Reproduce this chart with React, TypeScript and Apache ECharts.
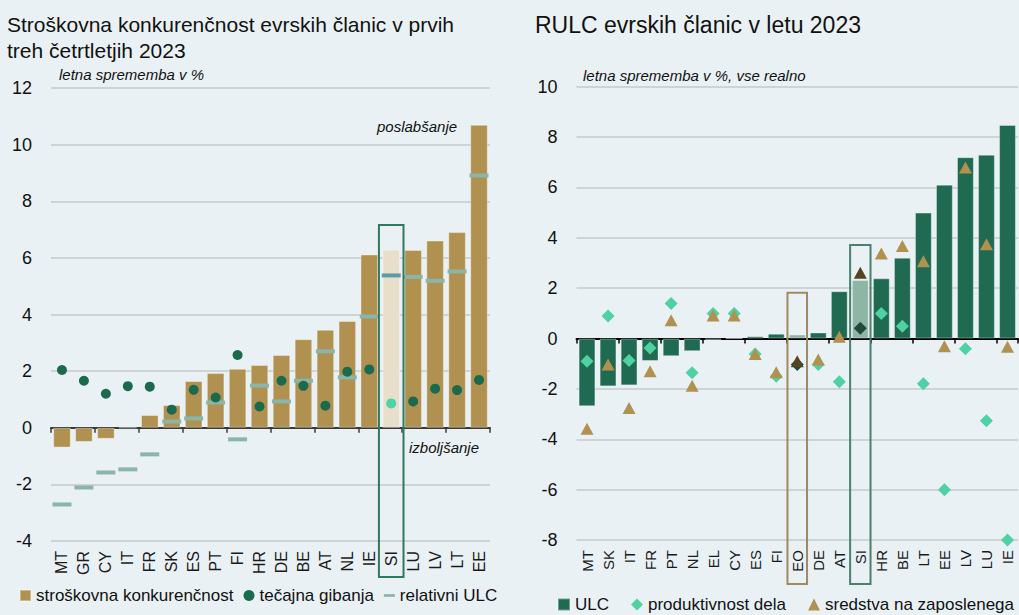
import React, { useEffect, useRef } from 'react';
import * as echarts from 'echarts';

const FONT = '"Liberation Sans", Arial, sans-serif';

// ---------- Left chart data ----------
const LEFT_CATEGORIES = ['MT', 'GR', 'CY', 'IT', 'FR', 'SK', 'ES', 'PT', 'FI', 'HR', 'DE', 'BE', 'AT', 'NL', 'IE', 'SI', 'LU', 'LV', 'LT', 'EE'];
const COST_COMPETITIVENESS = [-0.70, -0.50, -0.39, 0, 0.45, 0.80, 1.65, 1.93, 2.08, 2.22, 2.57, 3.13, 3.46, 3.77, 6.12, 6.29, 6.28, 6.61, 6.91, 10.7];
const EXCHANGE_RATE = [2.04, 1.66, 1.20, 1.47, 1.45, 0.64, 1.34, 1.07, 2.57, 0.75, 1.66, 1.48, 0.78, 1.98, 2.06, 0.86, 0.93, 1.38, 1.33, 1.69];
const RELATIVE_ULC = [-2.71, -2.11, -1.58, -1.47, -0.94, 0.22, 0.33, 0.89, -0.41, 1.49, 0.93, 1.66, 2.70, 1.78, 3.93, 5.38, 5.33, 5.19, 5.52, 8.91];
const LEFT_HIGHLIGHT = 'SI';
const LEFT_Y_TICKS = { min: -4, max: 12, interval: 2 };

// ---------- Right chart data ----------
const RIGHT_CATEGORIES = ['MT', 'SK', 'IT', 'FR', 'PT', 'NL', 'EL', 'CY', 'ES', 'FI', 'EO', 'DE', 'AT', 'SI', 'HR', 'BE', 'LT', 'EE', 'LV', 'LU', 'IE'];
const ULC = [-2.69, -1.90, -1.86, -0.89, -0.70, -0.50, -0.05, 0, 0.09, 0.19, 0.16, 0.24, 1.88, 2.32, 2.39, 3.21, 5.0, 6.11, 7.2, 7.3, 8.48];
const PRODUCTIVITY = [-0.90, 0.89, -0.87, -0.38, 1.39, -1.36, 0.99, 0.99, -0.61, -1.50, -1.03, -1.03, -1.72, 0.41, 0.99, 0.49, -1.80, -6.0, -0.41, -3.26, -8.0];
const COMPENSATION = [-3.58, -1.03, -2.76, -1.30, 0.73, -1.87, 0.91, 0.91, -0.61, -1.34, -0.90, -0.83, 0.07, 2.61, 3.38, 3.67, 3.07, -0.31, 6.79, 3.74, -0.33];
const RIGHT_HIGHLIGHTS = ['EO', 'SI'];
const RIGHT_Y_TICKS = { min: -8, max: 10, interval: 2 };

// box tops (value units)
const LEFT_BOX_TOP = 7.16;
const RIGHT_BOX_TOPS: Record<string, number> = { EO: 1.82, SI: 3.71 };

const C = {
  bg: '#e9f1f5',
  tan: '#b0914f',
  tanLight: '#e7dfc9',
  dot: '#1c6a4d',
  dotHi: '#4dd3a5',
  dash: '#8bb5aa',
  dashHi: '#5e9aab',
  ulc: '#1f6a50',
  ulcHi: '#8fb5a6',
  diamond: '#4fd1a3',
  diamondHi: '#1d4b38',
  tri: '#b0914f',
  triHi: '#54441f',
  grid: '#c5c9cb',
  text: '#111111',
};

export default function App() {
  const ref = useRef<HTMLDivElement>(null);
  useEffect(() => {
    const chart = echarts.init(ref.current!, null, { renderer: 'svg' });

    const yAxisCommon = {
      type: 'value',
      axisLine: { show: false },
      axisTick: { show: false },
      splitLine: { show: true, lineStyle: { color: C.grid, width: 1.5 } },
      axisLabel: { color: C.text, fontSize: 18, fontFamily: FONT, margin: 19 },
    };
    const labelAxis = (gridIndex: number, data: string[], fontSize: number) => ({
      type: 'category',
      gridIndex,
      data,
      position: 'bottom',
      axisLine: { show: false, onZero: false },
      axisTick: { show: false },
      axisLabel: { rotate: 90, fontSize, color: '#1a1a1a', fontFamily: FONT, margin: 10, interval: 0 },
    });
    const lineAxis = (gridIndex: number, data: string[], color: string) => ({
      type: 'category',
      gridIndex,
      data,
      position: 'bottom',
      axisLine: { show: true, onZero: true, lineStyle: { color, width: 2 } },
      axisTick: { show: true, length: 5, inside: false, lineStyle: { color, width: 1.5 } },
      axisLabel: { show: false },
    });

    const option: any = {
      animation: false,
      backgroundColor: C.bg,
      textStyle: { fontFamily: FONT },
      title: [
        {
          text: 'Stroškovna konkurenčnost evrskih članic v prvih\ntreh četrtletjih 2023',
          left: 7, top: 11, padding: 0,
          textStyle: { fontSize: 21, lineHeight: 26, fontWeight: 'normal', color: C.text, fontFamily: FONT },
        },
        {
          text: 'RULC evrskih članic v letu 2023',
          left: 535, top: 11, padding: 0,
          textStyle: { fontSize: 23, lineHeight: 27, fontWeight: 'normal', color: C.text, fontFamily: FONT },
        },
      ],
      grid: [
        { left: 51, right: 529, top: 88, bottom: 74, containLabel: false },
        { left: 576.5, right: 1, top: 86.7, bottom: 75, containLabel: false },
      ],
      xAxis: [
        labelAxis(0, LEFT_CATEGORIES, 16),
        lineAxis(0, LEFT_CATEGORIES, '#3a3a3a'),
        labelAxis(1, RIGHT_CATEGORIES, 15),
        lineAxis(1, RIGHT_CATEGORIES, '#000000'),
      ],
      yAxis: [
        { ...yAxisCommon, gridIndex: 0, ...LEFT_Y_TICKS },
        { ...yAxisCommon, gridIndex: 1, ...RIGHT_Y_TICKS },
      ],
      legend: [
        {
          left: 19, top: 587, padding: 0, itemGap: 10, itemWidth: 11, itemHeight: 11,
          textStyle: { fontSize: 17, color: C.text, fontFamily: FONT },
          data: [
            { name: 'stroškovna konkurenčnost', icon: 'rect' },
            { name: 'tečajna gibanja', icon: 'circle' },
            { name: 'relativni ULC', icon: 'path://M0,0H12V3H0Z' },
          ],
        },
        {
          left: 557, top: 596, padding: 0, itemGap: 22, itemWidth: 12, itemHeight: 12,
          textStyle: { fontSize: 17, color: C.text, fontFamily: FONT },
          data: [
            { name: 'ULC', icon: 'rect' },
            { name: 'produktivnost dela', icon: 'diamond' },
            { name: 'sredstva na zaposlenega', icon: 'triangle' },
          ],
        },
      ],
      series: [
        {
          name: 'stroškovna konkurenčnost',
          type: 'bar',
          xAxisIndex: 0, yAxisIndex: 0,
          barWidth: '80%',
          itemStyle: { color: C.tan, borderColor: 'rgba(255,255,255,0.35)', borderWidth: 1 },
          data: COST_COMPETITIVENESS.map((v, i) => ({
            value: v,
            itemStyle: LEFT_CATEGORIES[i] === LEFT_HIGHLIGHT ? { color: C.tanLight } : undefined,
          })),
        },
        {
          name: 'tečajna gibanja',
          type: 'scatter',
          xAxisIndex: 0, yAxisIndex: 0,
          symbol: 'circle', symbolSize: 10,
          itemStyle: { color: C.dot, opacity: 1 },
          z: 4,
          data: EXCHANGE_RATE.map((v, i) => ({
            value: v,
            itemStyle: LEFT_CATEGORIES[i] === LEFT_HIGHLIGHT ? { color: C.dotHi } : undefined,
          })),
        },
        {
          name: 'relativni ULC',
          type: 'scatter',
          xAxisIndex: 0, yAxisIndex: 0,
          symbol: 'rect', symbolSize: [19, 4],
          itemStyle: { color: C.dash, opacity: 1 },
          z: 3,
          data: RELATIVE_ULC.map((v, i) => ({
            value: v,
            itemStyle: LEFT_CATEGORIES[i] === LEFT_HIGHLIGHT ? { color: C.dashHi } : undefined,
          })),
        },
        {
          name: 'ULC',
          type: 'bar',
          xAxisIndex: 2, yAxisIndex: 1,
          barWidth: '80%',
          itemStyle: { color: C.ulc, borderColor: 'rgba(255,255,255,0.35)', borderWidth: 1 },
          data: ULC.map((v, i) => ({
            value: v,
            itemStyle: RIGHT_HIGHLIGHTS.includes(RIGHT_CATEGORIES[i]) ? { color: C.ulcHi } : undefined,
          })),
        },
        {
          name: 'produktivnost dela',
          type: 'scatter',
          xAxisIndex: 2, yAxisIndex: 1,
          symbol: 'diamond', symbolSize: 13,
          itemStyle: { color: C.diamond, opacity: 1 },
          z: 3,
          data: PRODUCTIVITY.map((v, i) => ({
            value: v,
            itemStyle: RIGHT_HIGHLIGHTS.includes(RIGHT_CATEGORIES[i]) ? { color: C.diamondHi } : undefined,
          })),
        },
        {
          name: 'sredstva na zaposlenega',
          type: 'scatter',
          xAxisIndex: 2, yAxisIndex: 1,
          symbol: 'triangle', symbolSize: [13, 12],
          itemStyle: { color: C.tri, opacity: 1 },
          z: 4,
          data: COMPENSATION.map((v, i) => ({
            value: v,
            itemStyle: RIGHT_HIGHLIGHTS.includes(RIGHT_CATEGORIES[i]) ? { color: C.triHi } : undefined,
          })),
        },
      ],
    };

    chart.setOption(option);

    // Highlight boxes computed from the axes' own scales
    const box = (seriesIndex: number, cat: number, topValue: number, minValue: number, below: number, widthFactor: number, color: string) => {
      const p = chart.convertToPixel({ seriesIndex }, [cat, topValue]) as number[];
      const pNext = chart.convertToPixel({ seriesIndex }, [cat + 1, topValue]) as number[];
      const pMin = chart.convertToPixel({ seriesIndex }, [cat, minValue]) as number[];
      const band = Math.abs(pNext[0] - p[0]);
      const w = band * widthFactor;
      return {
        type: 'rect',
        z: 10,
        shape: { x: p[0] - w / 2, y: p[1], width: w, height: pMin[1] + below - p[1] },
        style: { fill: 'none', stroke: color, lineWidth: 2 },
      };
    };

    const graphics: any[] = [
      box(0, LEFT_CATEGORIES.indexOf(LEFT_HIGHLIGHT), LEFT_BOX_TOP, LEFT_Y_TICKS.min, 36, 1.12, '#2f7a5f'),
      box(3, RIGHT_CATEGORIES.indexOf('EO'), RIGHT_BOX_TOPS.EO, RIGHT_Y_TICKS.min, 44, 0.93, '#a08a5e'),
      box(3, RIGHT_CATEGORIES.indexOf('SI'), RIGHT_BOX_TOPS.SI, RIGHT_Y_TICKS.min, 44, 0.97, '#4b806b'),
      {
        type: 'text', left: 59, top: 67,
        style: { text: 'letna sprememba v %', font: `italic 15px ${FONT}`, fill: C.text },
      },
      {
        type: 'text', left: 583, top: 68,
        style: { text: 'letna sprememba v %, vse realno', font: `italic 15px ${FONT}`, fill: C.text },
      },
      {
        type: 'text', left: 377, top: 119,
        style: { text: 'poslabšanje', font: `italic 15px ${FONT}`, fill: C.text },
      },
      {
        type: 'text', left: 409, top: 440,
        style: { text: 'izboljšanje', font: `italic 15px ${FONT}`, fill: C.text },
      },
    ];
    chart.setOption({ graphic: graphics });

    return () => chart.dispose();
  }, []);

  return (
    <div
      ref={ref}
      style={{ position: 'absolute', left: 0, top: 0, width: 1019, height: 615, background: C.bg }}
    />
  );
}
